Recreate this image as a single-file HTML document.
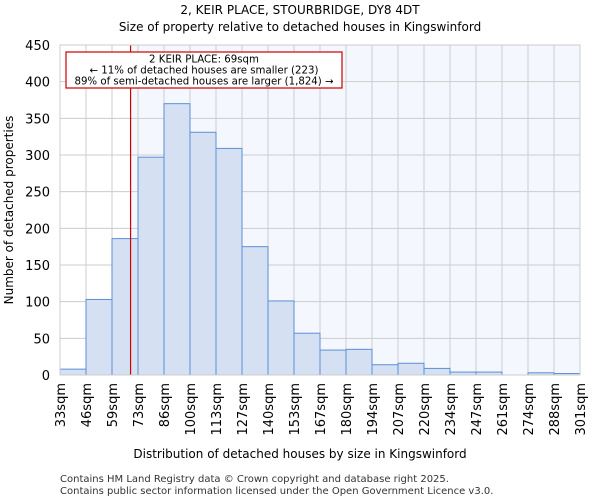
<!DOCTYPE html>
<html><head><meta charset="utf-8"><style>
body{margin:0;background:#fff;font-family:"DejaVu Sans","Liberation Sans",sans-serif;}
</style></head><body>
<svg width="600" height="500" xmlns="http://www.w3.org/2000/svg" font-family="DejaVu Sans, Liberation Sans, sans-serif">
<text x="300" y="14" text-anchor="middle" font-size="12">2, KEIR PLACE, STOURBRIDGE, DY8 4DT</text>
<text x="300" y="31" text-anchor="middle" font-size="12">Size of property relative to detached houses in Kingswinford</text>
<g id="plot"></g>
<text x="300" y="458" text-anchor="middle" font-size="12">Distribution of detached houses by size in Kingswinford</text>
<text transform="translate(13,210) rotate(-90)" text-anchor="middle" font-size="12">Number of detached properties</text>
<text x="60" y="482" font-size="10" fill="#333">Contains HM Land Registry data © Crown copyright and database right 2025.</text>
<text x="60" y="494" font-size="10" fill="#333">Contains public sector information licensed under the Open Government Licence v3.0.</text>
</svg>
<script>
const binLabels=["33sqm","46sqm","59sqm","73sqm","86sqm","100sqm","113sqm","127sqm","140sqm","153sqm","167sqm","180sqm","194sqm","207sqm","220sqm","234sqm","247sqm","261sqm","274sqm","288sqm","301sqm"];
const binEdges=[33,46,59,73,86,100,113,127,140,153,167,180,194,207,220,234,247,261,274,288,301];
const counts=[8,103,186,297,370,331,309,175,101,57,34,35,14,16,9,4,4,0,3,2];
const yTicks=[0,50,100,150,200,250,300,350,400,450];
const propertySize=69;
const NS="http://www.w3.org/2000/svg";
const L=60,R=580,T=45,B=375,yMax=450;
const nb=counts.length;
const bw=(R-L)/nb;
function xIdx(i){return L+i*bw;}
function xVal(v){for(let i=0;i<binEdges.length-1;i++){if(v<=binEdges[i+1])return xIdx(i)+bw*(v-binEdges[i])/(binEdges[i+1]-binEdges[i]);}return R;}
function y(v){return B-(v/yMax)*(B-T);}
const g=document.getElementById('plot');
function mk(t,a){const e=document.createElementNS(NS,t);for(const k in a)e.setAttribute(k,a[k]);g.appendChild(e);return e;}
const px=xVal(propertySize);
let e=mk('rect',{x:px,y:T,width:R-px,height:B-T,fill:'#f5f7fe'});


yTicks.forEach(t=>{let l=mk('line',{x1:L,x2:R,y1:y(t),y2:y(t),stroke:'#cccccc','stroke-width':1});


let tx=mk('text',{x:L-10,y:y(t)+5,'text-anchor':'end','font-size':'13'});tx.textContent=t;

});
binLabels.forEach((s,i)=>{let l=mk('line',{x1:xIdx(i),x2:xIdx(i),y1:T,y2:B,stroke:'#cccccc','stroke-width':1});


let tx=mk('text',{transform:`translate(${xIdx(i)+5},${B+8}) rotate(-90)`,'text-anchor':'end','font-size':'13'});tx.textContent=s;

});
counts.forEach((c,i)=>{let r=mk('rect',{x:xIdx(i),y:y(c),width:bw,height:B-y(c),fill:'#d5e0f3',stroke:'#5b8fd6','stroke-width':1});

});
let rl=mk('line',{x1:px,x2:px,y1:T,y2:B,stroke:'#cc0000','stroke-width':1.2});


let box=mk('rect',{x:66,y:52,width:276,height:36,fill:'#fff',stroke:'#cc0000','stroke-width':1.2});


["2 KEIR PLACE: 69sqm","← 11% of detached houses are smaller (223)","89% of semi-detached houses are larger (1,824) →"].forEach((s,i)=>{let t=mk('text',{x:204,y:62.5+i*11,'text-anchor':'middle','font-size':'10.2'});t.textContent=s;

});
let ax=mk('rect',{x:L,y:T,width:R-L,height:B-T,fill:'none',stroke:'#cccccc','stroke-width':1});


</script>
</body></html>
